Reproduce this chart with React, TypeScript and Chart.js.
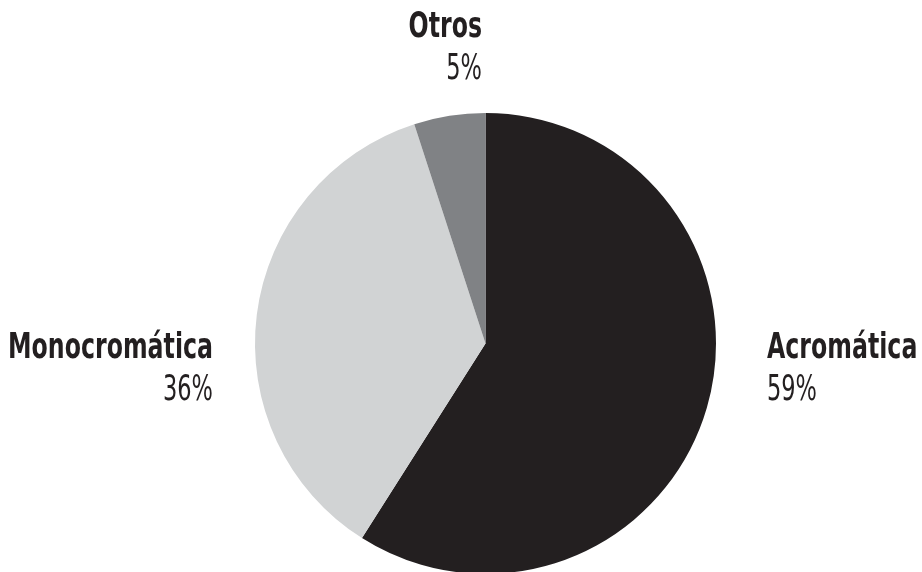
import React, { useEffect, useRef } from "react";
import { Chart, registerables } from "chart.js";

Chart.register(...registerables);

const categories = ["Acromática", "Monocromática", "Otros"];
const values = [59, 36, 5];
const percentLabels = ["59%", "36%", "5%"];
const colors = ["#231f20", "#d1d3d4", "#808285"];

const FAMILY = "'DejaVu Sans Condensed', 'Liberation Sans Narrow', sans-serif";
const BOLD = "bold 36px " + FAMILY;
const LIGHT = "36px " + FAMILY;

function drawText(ctx: CanvasRenderingContext2D, text: string, x: number, y: number, align: "left" | "right", font: string, squeeze: number) {
  ctx.save();
  ctx.font = font;
  ctx.textBaseline = "alphabetic";
  ctx.textAlign = align;
  ctx.translate(x, y);
  ctx.scale(squeeze, 1);
  ctx.fillText(text, 0, 0);
  ctx.restore();
}

const labelPlugin = {
  id: "sideLabels",
  afterDraw(chart: any) {
    const meta = chart.getDatasetMeta(0);
    const arc = meta.data[0];
    if (!arc) return;
    const cx = arc.x;
    const cy = arc.y;
    const r = arc.outerRadius;
    const ctx = chart.ctx as CanvasRenderingContext2D;
    ctx.save();
    ctx.font = BOLD;
    const boldSq = 205 / ctx.measureText(categories[1]).width;
    ctx.font = LIGHT;
    const lightSq = 50 / ctx.measureText(percentLabels[1]).width;
    ctx.restore();
    ctx.fillStyle = "#231f20";
    // Acromática (right side)
    drawText(ctx, categories[0], cx + r + 51, cy + 14.5, "left", BOLD, boldSq);
    drawText(ctx, percentLabels[0], cx + r + 51, cy + 56.5, "left", LIGHT, lightSq);
    // Monocromática (left side)
    drawText(ctx, categories[1], cx - r - 42, cy + 14.5, "right", BOLD, boldSq);
    drawText(ctx, percentLabels[1], cx - r - 42, cy + 56.5, "right", LIGHT, lightSq);
    // Otros (top)
    drawText(ctx, categories[2], cx - 3.5, cy - r - 76.5, "right", BOLD, boldSq);
    drawText(ctx, percentLabels[2], cx - 3.5, cy - r - 34.5, "right", LIGHT, lightSq);
  },
};

export default function App() {
  const ref = useRef<HTMLCanvasElement | null>(null);
  useEffect(() => {
    document.body.style.margin = "0";
    if (!ref.current) return;
    const chart = new Chart(ref.current, {
      type: "pie",
      data: {
        labels: categories,
        datasets: [
          {
            data: values,
            backgroundColor: colors,
            borderWidth: 0,
          },
        ],
      },
      options: {
        animation: false,
        responsive: false,
        maintainAspectRatio: false,
        layout: { padding: { left: 255, right: 206, top: 113, bottom: 2 } },
        plugins: {
          legend: { display: false },
          tooltip: { enabled: false },
        },
      },
      plugins: [labelPlugin],
    });
    return () => chart.destroy();
  }, []);
  return (
    <div style={{ width: 922, height: 572, overflow: "hidden", background: "#ffffff", position: "relative" }}>
      <canvas ref={ref} width={922} height={576} style={{ display: "block" }} />
    </div>
  );
}
